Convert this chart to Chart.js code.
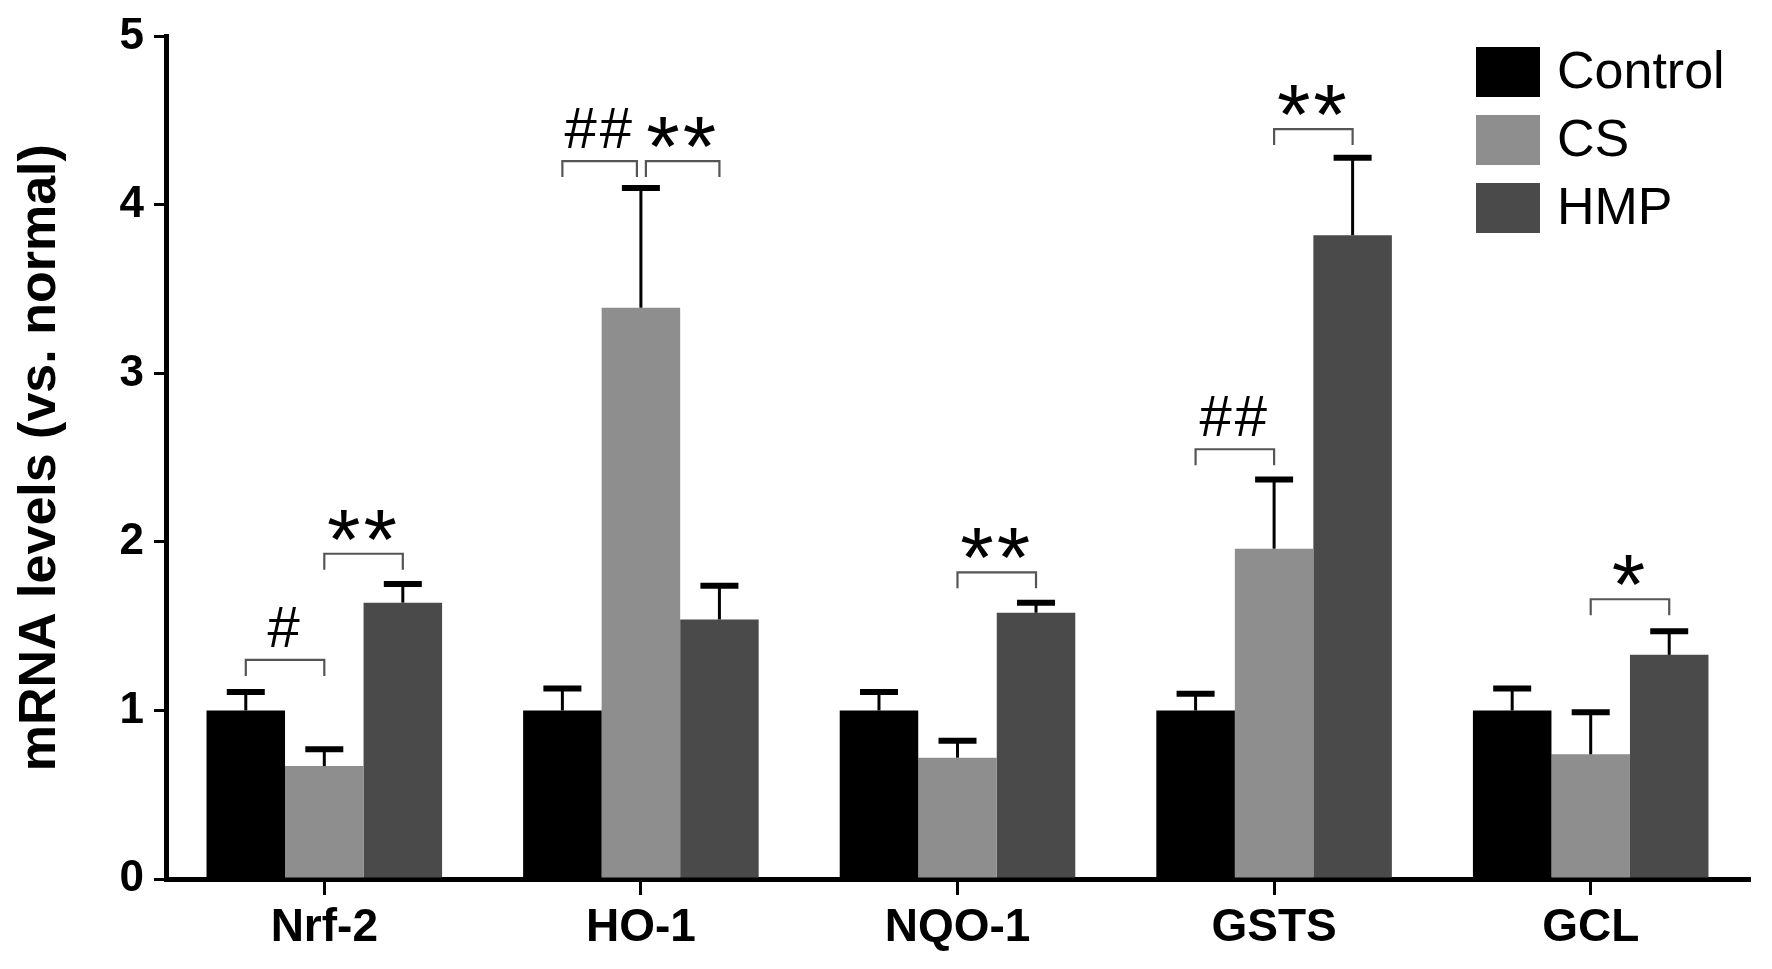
<!DOCTYPE html>
<html>
<head>
<meta charset="utf-8">
<script src="https://cdn.jsdelivr.net/npm/chart.js@4/dist/chart.umd.min.js"></script>
<style>
  html, body { margin: 0; padding: 0; background: #fff; }
  #wrap { width: 1772px; height: 969px; }
</style>
</head>
<body>
<div id="wrap"><canvas id="chart" width="1772" height="969"></canvas></div>
<script>
// ── Data ───────────────────────────────────────────────
const categories = ["Nrf-2", "HO-1", "NQO-1", "GSTS", "GCL"];
const seriesNames = ["Control", "CS", "HMP"];
const yTicks = [0, 1, 2, 3, 4, 5];

const controlMean = [1.00, 1.00, 1.00, 1.00, 1.00];
const controlSem  = [0.11, 0.13, 0.11, 0.10, 0.13];
const csMean      = [0.67, 3.39, 0.72, 1.96, 0.74];
const csSem       = [0.10, 0.71, 0.10, 0.41, 0.25];
const hmpMean     = [1.64, 1.54, 1.58, 3.82, 1.33];
const hmpSem      = [0.11, 0.20, 0.06, 0.46, 0.14];

// significance brackets: category index, from series, to series, height (y units), label
const sigCategory = [0, 0, 1, 1, 2, 3, 3, 4];
const sigFrom     = [0, 1, 0, 1, 1, 0, 1, 1];
const sigTo       = [1, 2, 1, 2, 2, 1, 2, 2];
const sigHeight   = [1.30, 1.93, 4.26, 4.26, 1.82, 2.55, 4.45, 1.66];
const sigLabel    = ["#", "**", "##", "**", "**", "##", "**", "*"];

const COLORS = ["#000000", "#8e8e8e", "#4a4a4a"];
const FONT = "'Liberation Sans', Arial, Helvetica, sans-serif";

// ── Error bars, brackets, legend ───────────────────────
const annotate = {
  id: "annotate",
  afterDatasetsDraw(chart) {
    const { ctx } = chart;
    const y = chart.scales.y;
    ctx.save();

    // error bars (upper only)
    chart.data.datasets.forEach((ds, di) => {
      chart.getDatasetMeta(di).data.forEach((bar, i) => {
        const top = y.getPixelForValue(ds.data[i] + ds.sem[i]);
        ctx.strokeStyle = "#000";
        ctx.lineWidth = 3;
        ctx.beginPath();
        ctx.moveTo(bar.x, bar.y);
        ctx.lineTo(bar.x, top);
        ctx.stroke();
        ctx.lineWidth = 6;
        ctx.beginPath();
        ctx.moveTo(bar.x - 19, top);
        ctx.lineTo(bar.x + 19, top);
        ctx.stroke();
      });
    });

    // significance brackets
    sigLabel.forEach((label, k) => {
      const c = sigCategory[k];
      let x1 = chart.getDatasetMeta(sigFrom[k]).data[c].x;
      let x2 = chart.getDatasetMeta(sigTo[k]).data[c].x;
      const shared = (j) => j !== k && sigCategory[j] === c && sigHeight[j] === sigHeight[k];
      sigLabel.forEach((_, j) => {
        if (shared(j) && sigTo[j] === sigFrom[k]) x1 += 5;
        if (shared(j) && sigFrom[j] === sigTo[k]) x2 -= 4;
      });
      const yb = y.getPixelForValue(sigHeight[k]);
      ctx.strokeStyle = "#555";
      ctx.lineWidth = 2.2;
      ctx.beginPath();
      ctx.moveTo(x1, yb + 16);
      ctx.lineTo(x1, yb);
      ctx.lineTo(x2, yb);
      ctx.lineTo(x2, yb + 16);
      ctx.stroke();

      const star = label.includes("*");
      ctx.font = star ? `86px ${FONT}` : `58px ${FONT}`;
      if ("letterSpacing" in ctx) ctx.letterSpacing = star ? "3px" : "3px";
      ctx.fillStyle = "#000";
      ctx.textAlign = "center";
      ctx.textBaseline = "alphabetic";
      const m = ctx.measureText(label);
      const base = yb - 13 - m.actualBoundingBoxDescent;
      ctx.fillText(label, (x1 + x2) / 2, base);
    });
    if ("letterSpacing" in ctx) ctx.letterSpacing = "0px";

    // legend
    const lx = 1476, ly = 47, bw = 64, bh = 50, step = 68;
    ctx.font = `52px ${FONT}`;
    ctx.textAlign = "left";
    ctx.textBaseline = "middle";
    chart.data.datasets.forEach((ds, di) => {
      const top = ly + di * step;
      ctx.fillStyle = ds.backgroundColor;
      ctx.fillRect(lx, top, bw, bh);
      ctx.fillStyle = "#000";
      ctx.fillText(ds.label, lx + bw + 17, top + bh / 2 + 2);
    });
    ctx.restore();
  }
};

const means = [controlMean, csMean, hmpMean];
const sems = [controlSem, csSem, hmpSem];

new Chart(document.getElementById("chart"), {
  type: "bar",
  data: {
    labels: categories,
    datasets: seriesNames.map((name, i) => ({
      label: name,
      data: means[i],
      sem: sems[i],
      backgroundColor: COLORS[i],
      borderWidth: 0,
      categoryPercentage: 0.744,
      barPercentage: 1.0
    }))
  },
  options: {
    responsive: false,
    devicePixelRatio: 1,
    animation: false,
    layout: { padding: { top: 33, right: 23, bottom: 0, left: 0 } },
    plugins: { legend: { display: false }, tooltip: { enabled: false } },
    scales: {
      x: {
        afterFit: s => { s.height = 90; },
        grid: { offset: false, drawOnChartArea: false, drawTicks: true, tickLength: 16, lineWidth: 3, color: "#000" },
        border: { display: true, color: "#000", width: 5 },
        ticks: { color: "#000", padding: 6, font: { family: FONT, size: 46, weight: "bold" } }
      },
      y: {
        min: 0,
        max: 5,
        afterFit: s => { s.width = 166; },
        afterBuildTicks: s => { s.ticks = yTicks.map(v => ({ value: v })); },
        grid: { drawOnChartArea: false, drawTicks: true, tickLength: 12, lineWidth: 3, color: "#000" },
        border: { display: true, color: "#000", width: 5 },
        ticks: { color: "#000", padding: 10, font: { family: FONT, size: 44, weight: "bold" } },
        title: {
          display: true,
          text: "mRNA levels (vs. normal)",
          color: "#000",
          padding: { top: 9, bottom: 0 },
          font: { family: FONT, size: 52, weight: "bold" }
        }
      }
    }
  },
  plugins: [annotate]
});
</script>
</body>
</html>
